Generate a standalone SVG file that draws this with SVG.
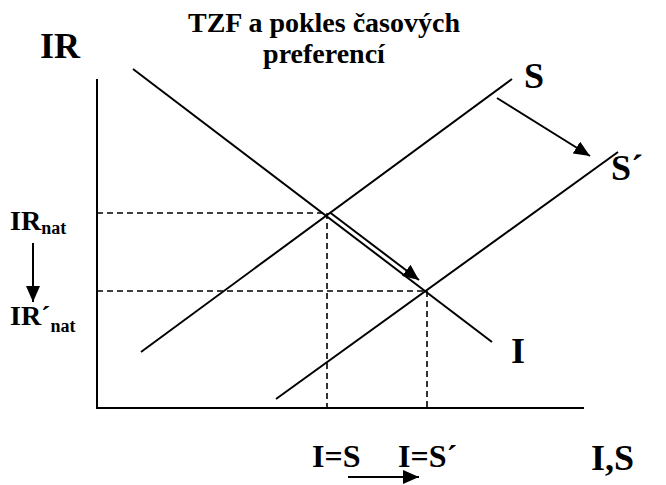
<svg xmlns="http://www.w3.org/2000/svg" width="666" height="485" viewBox="0 0 666 485">
<style>
.ln{stroke:#000;stroke-width:2;fill:none}
.ds{stroke:#000;stroke-width:1.6;fill:none;stroke-dasharray:6 4}
.ar{stroke:#000;stroke-width:2;fill:none;marker-end:url(#ah)}
text{font-family:"Liberation Serif","Times New Roman",serif;font-weight:bold;fill:#000}
.big{font-size:36px}
.mid{font-size:32px}
.ttl{font-size:28px;text-anchor:middle}
.lab{font-size:28px}
.sub{font-size:18px}
</style>
<defs>
<marker id="ah" markerUnits="userSpaceOnUse" markerWidth="18" markerHeight="14" refX="16" refY="7" orient="auto">
<path d="M0,0 L16,7 L0,14 Z" fill="#000"/>
</marker>
</defs>
<g id="axes"><path class="ln" d="M97,79 V408 H584"/></g>
<g id="connectors">
<path class="ln" d="M133,69 L492,342"/>
<path class="ln" d="M141,352 L512,79"/>
<path class="ln" d="M276,399 L618,152"/>
<path class="ds" d="M97,213 H327 V408"/>
<path class="ds" d="M97,291 H427 V408"/>
<path class="ar" d="M497,98 L590,156"/>
<path class="ar" d="M330,212.5 L419,280"/>
<path class="ar" d="M33,243 L33,302"/>
<path class="ar" d="M348,477 L419,477"/>
</g>
<g id="title"><text class="ttl" x="324" y="32">TZF a pokles časových</text><text class="ttl" x="324" y="63">preferencí</text></g>
<g id="label-IR"><text class="big" x="40" y="58">IR</text></g>
<g id="label-IRnat"><text class="lab" x="10" y="230">IR<tspan class="sub" dy="4">nat</tspan></text></g>
<g id="label-IRnat2"><text class="lab" x="10" y="325">IR´<tspan class="sub" dy="7">nat</tspan></text></g>
<g id="label-S"><text class="big" x="524" y="88">S</text></g>
<g id="label-S2"><text class="big" x="611" y="180">S´</text></g>
<g id="label-I"><text class="big" x="511" y="363">I</text></g>
<g id="label-IS"><text class="big" x="591" y="470">I,S</text></g>
<g id="label-eq1"><text class="mid" x="312" y="467">I=S</text></g>
<g id="label-eq2"><text class="mid" x="398" y="467">I=S´</text></g>
</svg>
